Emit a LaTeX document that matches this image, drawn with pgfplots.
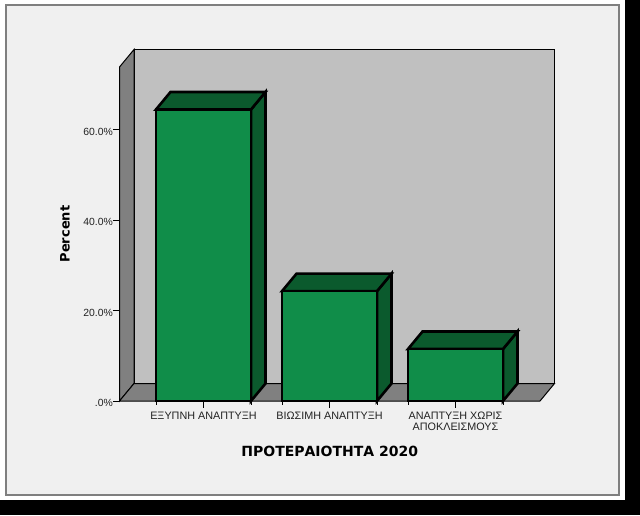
\documentclass[border=0pt]{standalone}
\usepackage{pgfplots}
\pgfplotsset{compat=1.18}
\usepackage{fontspec}
\setmainfont{Liberation Sans}
\newfontfamily\labelfont{DejaVu Sans}
\definecolor{panel}{HTML}{F0F0F0}
\definecolor{wall}{HTML}{C0C0C0}
\definecolor{sidewall}{HTML}{808080}
\definecolor{framec}{HTML}{7F7F7F}
\definecolor{barfront}{HTML}{108D49}
\definecolor{barside}{HTML}{0B5A2D}
\definecolor{txt}{HTML}{222222}
\begin{document}
\begin{tikzpicture}[x=1pt,y=1pt]
\fill[black] (0,0) rectangle (640,515);
\fill[white] (0,15) rectangle (625,515);
\fill[panel,draw=framec,line width=1.2pt] (6,20) rectangle (619,510);
\begin{axis}[
  at={(119.5pt,114pt)}, anchor=south west,
  scale only axis, width=420.5pt, height=334pt,
  xmin=-0.6667, xmax=2.6706, ymin=0, ymax=73.9,
  clip=false,
  axis line style={draw=none},
  tick align=outside, xtick pos=bottom, ytick pos=left,
  major tick length=6.5pt,
  tick style={black,line width=0.9pt},
  xtick={0,1,2},
  xticklabels={ΕΞΥΠΝΗ ΑΝΑΠΤΥΞΗ,ΒΙΩΣΙΜΗ ΑΝΑΠΤΥΞΗ,{ΑΝΑΠΤΥΞΗ ΧΩΡΙΣ\\ΑΠΟΚΛΕΙΣΜΟΥΣ}},
  x tick label style={align=center,font=\fontsize{10.8}{11}\selectfont,text=txt,inner sep=0pt,yshift=-4.5pt},
  extra x ticks={-0.377,0.377,0.623,1.377,1.623,2.377},
  extra x tick labels={},
  extra x tick style={major tick length=3.5pt},
  ytick={0,20,40,60},
  yticklabels={.0\%,20.0\%,40.0\%,60.0\%},
  y tick label style={font=\fontsize{10.4}{11}\selectfont,text=txt,inner sep=0pt,yshift=-2pt},
  xlabel={\labelfont\bfseries ΠΡΟΤΕΡΑΙΟΤΗΤΑ 2020},
  ylabel={\labelfont\bfseries Percent},
  xlabel style={anchor=center,at={(axis description cs:0.5,-0.1497)},font=\fontsize{14}{15}\selectfont,inner sep=0pt},
  ylabel style={anchor=center,at={(axis description cs:-0.1296,0.5)},font=\fontsize{13}{15}\selectfont,inner sep=0pt},
]
% back wall
\addplot[fill=wall,draw=black,line width=1pt] coordinates {(-0.5516,3.87) (2.7857,3.87) (2.7857,77.77) (-0.5516,77.77)} --cycle;
% left wall
\addplot[fill=sidewall,draw=black,line width=1pt] coordinates {(-0.6667,0) (-0.5516,3.87) (-0.5516,77.77) (-0.6667,73.9)} --cycle;
% floor
\addplot[fill=sidewall,draw=black,line width=1pt] coordinates {(-0.6667,0) (2.6706,0) (2.7857,3.87) (-0.5516,3.87)} --cycle;
% bar 1
\addplot[fill=barside,draw=black,line width=2.6pt] coordinates {(0.377,0) (0.492,3.87) (0.492,68.37) (0.377,64.5)} --cycle;
\addplot[fill=barside,draw=black,line width=2.6pt] coordinates {(-0.377,64.5) (0.377,64.5) (0.492,68.37) (-0.262,68.37)} --cycle;
% bar 2
\addplot[fill=barside,draw=black,line width=2.6pt] coordinates {(1.377,0) (1.492,3.87) (1.492,28.17) (1.377,24.3)} --cycle;
\addplot[fill=barside,draw=black,line width=2.6pt] coordinates {(0.623,24.3) (1.377,24.3) (1.492,28.17) (0.738,28.17)} --cycle;
% bar 3
\addplot[fill=barside,draw=black,line width=2.6pt] coordinates {(2.377,0) (2.492,3.87) (2.492,15.37) (2.377,11.5)} --cycle;
\addplot[fill=barside,draw=black,line width=2.6pt] coordinates {(1.623,11.5) (2.377,11.5) (2.492,15.37) (1.738,15.37)} --cycle;
% fronts
\addplot[ybar,bar width=0.754,bar shift=0pt,fill=barfront,draw=black,line width=2.6pt] coordinates {(0,64.5) (1,24.3) (2,11.5)};
\end{axis}
\end{tikzpicture}
\end{document}
